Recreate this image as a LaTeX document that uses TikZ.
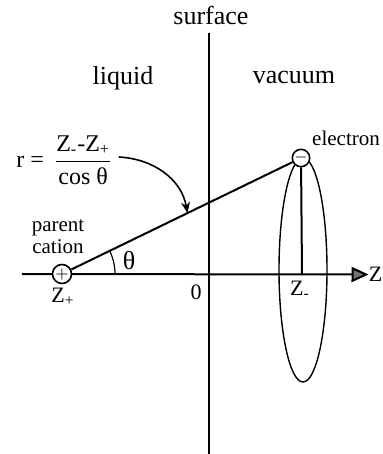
\documentclass[tikz,border=0pt]{standalone}
\usepackage{fontspec}
\setmainfont{Liberation Serif}
\usepackage{tikz}
\usetikzlibrary{arrows.meta,calc}

\begin{document}
\begin{tikzpicture}[
    x=0.5pt, y=-0.5pt,
    lbl/.style={font=\fontsize{13}{15}\selectfont, inner sep=1pt},
    sm/.style={font=\fontsize{10.5}{11}\selectfont, inner sep=1pt, align=center},
    zlab/.style={font=\fontsize{11}{13}\selectfont, inner sep=1pt},
    chg/.style={draw, circle, fill=white, line width=0.8pt, inner sep=0pt, font=\fontsize{8}{8}\selectfont},
    ln/.style={line width=1pt},
    arr/.style={-{Stealth[length=5.5pt, width=4.5pt]}, line width=0.8pt}
]
\useasboundingbox (0,0) rectangle (382,454);

\node[lbl] (surf) at (211,15) {surface};
\node[lbl] (liq) at (123,78) {liquid};
\node[lbl] (vac) at (294,78) {vacuum};

\coordinate (stop) at (209,33);
\coordinate (sbot) at (209,454);
\draw[ln] (stop) -- (sbot);

\coordinate (zstart) at (22,274);
\node[zlab, inner sep=0pt, anchor=west] (zlbl) at (368.5,274.5) {Z};
\draw[ln, -{Triangle[length=8.5pt, width=7.5pt, fill=black!55]}] (zstart) -- (zlbl.west);

\draw[line width=0.7pt] (303,270) ellipse [x radius=12pt, y radius=56pt];
\coordinate (zminus) at (302,274);

\node[chg, minimum size=9.5pt] (cat) at (62,274) {$+$};
\node[chg, minimum size=8pt] (el) at (301,158) {$-$};

\draw[ln] (cat) -- (el);
\draw[ln] (el) -- (zminus);

\coordinate (arcstart) at (115,274);
\draw[line width=0.6pt] (arcstart) arc[start angle=0, end angle=26, radius=26.5pt];
\node[lbl] (theta) at (129,261) {θ};

\node[sm] (parlbl) at (58,237) {parent\\cation};
\node[zlab] (zplbl) at (63,297) {Z\textsubscript{+}};
\node[zlab] (zero) at (196,292) {0};
\node[zlab] (zmlbl) at (300,290) {Z\textsubscript{-}};
\node[sm] (ellbl) at (346,138) {electron};

\node[font=\fontsize{12}{14}\selectfont, inner sep=1pt, anchor=west] (rform) at (14,160)
    {r = \,$\displaystyle\frac{\mbox{Z\textsubscript{-}-Z\textsubscript{+}}}{\mbox{cos θ}}$};
\coordinate (rmid) at ($(cat)!0.525!(el)$);
\draw[arr] ($(rform.east)+(4,-3)$) to[out=-3, in=100] (rmid);
\end{tikzpicture}
\end{document}
